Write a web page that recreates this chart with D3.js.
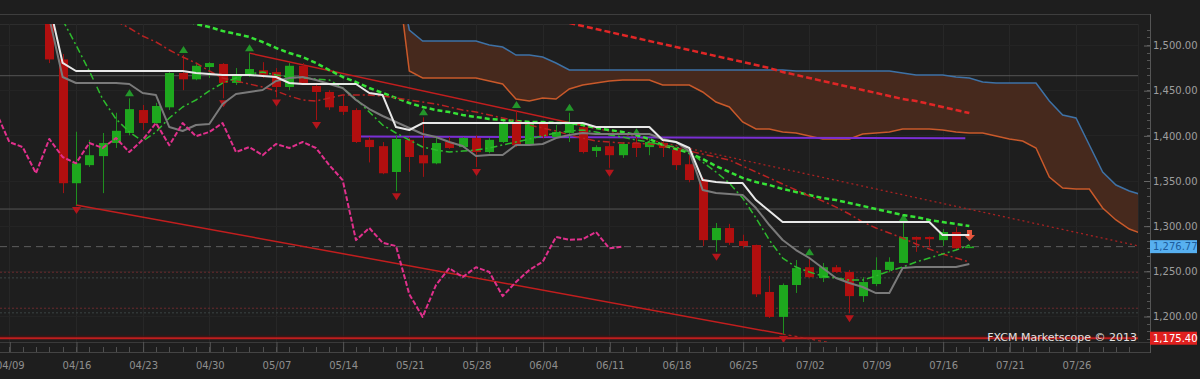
<!DOCTYPE html>
<html><head><meta charset="utf-8">
<script src="https://cdn.jsdelivr.net/npm/d3@7"></script>
<style>html,body{margin:0;padding:0;background:#1e1e1e;overflow:hidden}svg{display:block}</style>
</head><body><svg id="c" width="1200" height="379"></svg>
<script>
// ---------- DATA ----------
const barDates = ["04/12","04/15","04/16","04/17","04/18","04/19","04/22","04/23","04/24","04/25","04/26","04/29","04/30",
"05/01","05/02","05/03","05/06","05/07","05/08","05/09","05/10","05/13","05/14","05/15","05/16","05/17","05/20","05/21","05/22","05/23","05/24","05/27","05/28","05/29","05/30","05/31",
"06/03","06/04","06/05","06/06","06/07","06/10","06/11","06/12","06/13","06/14","06/17","06/18","06/19","06/20","06/21","06/24","06/25","06/26","06/27","06/28",
"07/01","07/02","07/03","07/04","07/05","07/08","07/09","07/10","07/11","07/12","07/15","07/16","07/17","07/18"];
const open  = [1564,1484,1347,1367,1377,1391.5,1402.6,1428,1413.6,1431,1469,1462,1475.6,1479,1458,1467,1472,1470,1453.5,1477,1454.6,1448,1432.5,1428,1395,1388,1359.4,1395,1378,1369,1392.6,1387,1397,1381.5,1392.6,1413.6,1390.4,1413.6,1398,1402.6,1409,1382.7,1388,1378,1391.5,1387,1391.5,1384,1368,1350.5,1284,1297.4,1283,1278.6,1226.6,1199,1234.3,1254,1242,1254,1248.7,1222,1235.4,1251,1258.7,1287.5,1287.5,1284,1293,1276];
const high  = [1567,1490,1404,1395,1402.6,1425,1441,1433.6,1436,1470,1489,1480,1481,1480,1474.5,1491,1481,1474.5,1480,1480,1458,1450,1444.6,1430,1398,1392.6,1400,1398,1420,1398,1398,1398,1400,1397,1417,1428,1415,1415,1411.4,1425,1413.6,1389,1391.5,1392.6,1398,1397,1395,1386,1378,1353,1303,1302,1290,1279,1244.3,1236,1262,1265,1258.7,1256.4,1251,1243,1265,1265,1303,1288,1288,1296.3,1298.5,1278.5];
const low   = [1480,1336,1323,1365,1336,1386,1400,1406,1411,1428,1450,1461,1463.5,1441,1455.7,1464.6,1463.5,1442,1450,1455.7,1417,1428,1422.5,1391.5,1370,1357,1338,1359.4,1354,1368,1385,1386,1365,1380,1391.5,1387,1389,1397,1397,1392.6,1380,1376,1364,1375,1376,1378,1376,1361.6,1348,1277.5,1271,1278.6,1275,1221,1197.8,1180,1225.5,1242,1237.6,1247.6,1203,1215.5,1233,1248.7,1258.7,1271,1276,1277.5,1273,1275.5];
const close = [1484,1347,1369,1378,1391.5,1405,1429,1413.6,1432.5,1469,1462,1477,1480,1458,1465.7,1473.4,1467,1453.5,1477,1458,1448,1431,1426,1392.6,1387,1358,1396,1376,1369,1391.5,1386,1397,1381.5,1395,1413.6,1389,1413.6,1399,1403.7,1413.6,1381.5,1387,1378,1390.4,1386,1392.6,1386,1367,1350.5,1284,1297.4,1281,1277.5,1224,1199,1234.3,1253,1243,1254,1248.7,1222,1237.6,1251,1260,1287.5,1284.5,1285,1293,1275,1276.77];

const tickBars   = [-3,2,7,12,17,22,27,32,37,42,47,52,57,62,67,72,77];
const tickLabels = ["04/09","04/16","04/23","04/30","05/07","05/14","05/21","05/28","06/04","06/11","06/18","06/25","07/02","07/09","07/16","07/21","07/26"];
const priceTicks = [1200,1250,1300,1350,1400,1450,1500];

// Ichimoku lines (start at bar 0)
const kijun = [1545,1480.1,1471.2,1471.2,1471.2,1471.2,1471.2,1471.2,1471.2,1471.2,1471.2,1469.0,1467.9,1466.8,1466.8,1466.8,1465.7,1464.6,1457.9,1456.8,1456.8,1456.8,1456.8,1456.8,1446.9,1444.6,1409.2,1405.9,1413.6,1413.6,1413.6,1413.6,1413.6,1413.6,1413.6,1413.6,1413.6,1413.6,1413.6,1413.6,1413.6,1409.2,1409.2,1409.2,1409.2,1409.2,1394.8,1392.6,1386.0,1350.5,1348.3,1347.2,1347.2,1328.4,1316.2,1304,1304,1304,1304,1304,1304,1304,1304,1304,1304,1304,1304,1289.6,1289.6,1289.6];
const tenkan = [1530,1464.6,1457.9,1457.9,1457.9,1457.9,1456.8,1446.9,1444.6,1409.2,1404.8,1411.4,1412.5,1434.7,1445.8,1448.0,1450.2,1460.1,1463.5,1464.6,1461.3,1456.8,1452.4,1439.1,1429.1,1421.4,1414.8,1408.1,1401.5,1398.1,1392.6,1388.2,1377.1,1378.2,1378.2,1389.3,1389.3,1390.4,1397.0,1400.4,1402.6,1401.5,1401.5,1401.5,1401.5,1401.5,1395.9,1392.6,1382.6,1339.5,1336.1,1335.0,1333.9,1319.5,1300.7,1284.1,1273.0,1264.2,1253.1,1242.1,1236.5,1232.1,1225.4,1225.4,1253.1,1254.2,1254.2,1254.2,1254.2,1257.5];
// cloud spans, start at bar 26
const cloudStart = 26;
const spanA = [1590,1516.6,1504.4,1504.4,1504.4,1504.4,1504.4,1500.0,1497.8,1488.9,1488.9,1486.7,1480.1,1472.3,1472.3,1472.3,1472.3,1472.3,1472.3,1472.3,1472.3,1472.3,1472.3,1472.3,1472.3,1472.3,1472.3,1472.3,1472.3,1472.3,1471.2,1471.2,1471.2,1471.2,1471.2,1471.2,1471.2,1471.2,1469.0,1466.8,1466.8,1466.8,1464.6,1463.5,1459.0,1457.9,1457.9,1457.9,1457.9,1438.0,1422.5,1419.2,1389.3,1359.4,1345.0,1338.4,1333.9];
const spanB = [1590,1471.2,1463.5,1463.5,1463.5,1463.5,1463.5,1460.1,1456.8,1440.2,1438.0,1441.3,1440.2,1451.3,1455.7,1457.9,1460.1,1461.3,1461.3,1461.3,1455.7,1455.7,1455.7,1448.0,1436.9,1431.4,1414.8,1407.0,1407.0,1403.7,1402.6,1399.3,1395.9,1395.9,1395.9,1401.5,1402.6,1403.7,1407.0,1407.0,1407.0,1405.9,1403.7,1402.6,1402.6,1399.3,1395.9,1393.7,1386.0,1353.9,1341.7,1340.6,1340.6,1319.5,1306.3,1296.3,1290.8];
// moving averages
const fastMAStart = 1;
const fastMA = [1527.7,1500.0,1471.2,1440.2,1418.1,1403.7,1393.7,1403.7,1419.2,1431.4,1439.1,1449.1,1457.9,1463.5,1467.9,1470.1,1466.8,1464.6,1463.5,1462.4,1461.3,1452.4,1440.2,1425.8,1411.4,1402.6,1394.8,1387.1,1383.8,1381.5,1382.6,1383.8,1386.0,1389.3,1392.6,1395.9,1399.3,1402.6,1404.8,1405.9,1403.7,1400.4,1398.1,1394.8,1392.6,1389.3,1387.1,1381.5,1370.5,1359.4,1347.2,1330.6,1308.5,1284.1,1264.2,1254.2,1248.7,1244.3,1242.1,1239.8,1239.8,1244.3,1249.8,1254.2,1259.8,1264.2,1268.6,1273.0,1278.6];
const midMAStart = 5;
const midMA = [1526.6,1518.8,1510.0,1503.3,1494.5,1486.7,1480.1,1471.2,1463.5,1460.1,1456.8,1453.5,1449.1,1443.5,1439.1,1438.0,1441.3,1444.6,1444.6,1444.6,1443.5,1441.3,1439.1,1436.9,1434.7,1431.4,1428.0,1425.8,1422.5,1419.2,1415.9,1411.4,1408.1,1404.8,1400.4,1397.0,1393.7,1392.6,1391.5,1391.5,1390.4,1389.3,1386.0,1382.6,1379.3,1376.0,1372.7,1366.0,1359.4,1352.8,1346.1,1339.5,1332.8,1327.3,1320.6,1312.9,1304.0,1297.4,1291.9,1286.3,1279.7,1274.2,1268.6,1264.2,1259.8];
const slowMAStart = 10;
const slowMA = [1530,1523.2,1519.9,1515.5,1512.2,1508.9,1503.3,1496.7,1491.1,1486.7,1480.1,1472.3,1464.6,1459.0,1452.4,1446.9,1441.3,1435.8,1431.4,1428.0,1425.8,1422.5,1420.3,1418.1,1417.0,1415.9,1414.8,1414.8,1413.6,1413.6,1411.4,1408.1,1405.9,1403.7,1400.4,1395.9,1389.3,1384.9,1380.4,1373.8,1366.0,1359.4,1352.8,1348.3,1345.0,1340.6,1337.3,1333.9,1330.6,1328.4,1325.1,1321.8,1318.4,1315.1,1311.8,1309.6,1306.3,1304.0,1301.8,1299.6];
const longMAStart = 39;
const longMA = [1524.4,1521.0,1517.7,1514.4,1511.1,1507.7,1504.4,1501.1,1497.8,1494.5,1491.1,1487.8,1484.5,1481.2,1477.9,1474.5,1470.1,1466.8,1463.5,1460.1,1456.8,1453.5,1450.2,1446.9,1443.5,1440.2,1438.0,1434.7,1431.4,1428.0,1424.7];
const chikouShift = 26;

const upFractals   = [6,10,15,28,35,39,44,57,64];
const downFractals = [2,13,17,20,26,32,42,50,55,60];

const upperTrend = [{i:15,p:1491},{i:40,p:1411}];
const upperTrendEnd = 82;
const lowerTrend = [{i:2,p:1323},{i:55,p:1180}];
const lowerTrendEnd = 60;
const purpleLine = [{i:23.3,p:1398.7},{i:68.7,p:1396.7}];
const grayLevels = [1466.0,1318.4];
const redDotLevels = [1248.5,1208.6];
const grayDotLevels = [1242.2,1203.5];
const lastPrice = 1276.77;
const lowMark = 1175.40;

// ---------- LAYOUT ----------
const svg = d3.select("#c");
const W=1200,H=379, PL=0, PR=1138, PT=24, PB=342, AX=1150;
const x = d3.scaleLinear().domain([-3,77]).range([9.3,1076]);
const y = d3.scaleLinear().domain([1200,1500]).range([316,45]);
const fmt = d3.format(",.2f");

svg.append("rect").attr("width",W).attr("height",H).attr("fill","#1e1e1e");
svg.append("defs").append("clipPath").attr("id","clip").append("rect")
  .attr("x",PL).attr("y",PT).attr("width",PR-PL).attr("height",PB-PT);

// frame lines
svg.append("line").attr("x1",0).attr("x2",AX).attr("y1",14.5).attr("y2",14.5).attr("stroke","#3e3e3e");
svg.append("line").attr("x1",0).attr("x2",PR).attr("y1",24.5).attr("y2",24.5).attr("stroke","#2d2d2d");
svg.append("line").attr("x1",PR+0.5).attr("x2",PR+0.5).attr("y1",24).attr("y2",PB).attr("stroke","#262626");

const plot = svg.append("g").attr("clip-path","url(#clip)");

// grid
plot.selectAll(".vg").data(tickBars).join("line")
  .attr("x1",d=>Math.round(x(d))+0.5).attr("x2",d=>Math.round(x(d))+0.5).attr("y1",PT).attr("y2",PB)
  .attr("stroke","#272727");
plot.selectAll(".hg").data(priceTicks).join("line")
  .attr("x1",0).attr("x2",PR).attr("y1",d=>Math.round(y(d))+0.5).attr("y2",d=>Math.round(y(d))+0.5)
  .attr("stroke","#242424");

// horizontal levels
plot.selectAll(".gl").data(grayLevels).join("line")
  .attr("x1",0).attr("x2",PR).attr("y1",d=>y(d)).attr("y2",d=>y(d)).attr("stroke","#555").attr("stroke-width",1);
plot.selectAll(".rdl").data(redDotLevels).join("line")
  .attr("x1",0).attr("x2",PR).attr("y1",d=>y(d)).attr("y2",d=>y(d)).attr("stroke","#6b2a2e").attr("stroke-dasharray","2,2");
plot.selectAll(".gdl").data(grayDotLevels).join("line")
  .attr("x1",0).attr("x2",PR).attr("y1",d=>y(d)).attr("y2",d=>y(d)).attr("stroke","#3c4545").attr("stroke-dasharray","2,2");
plot.append("line").attr("x1",0).attr("x2",PR).attr("y1",y(lastPrice)).attr("y2",y(lastPrice))
  .attr("stroke","#5e5e5e").attr("stroke-dasharray","7,5");
plot.append("line").attr("x1",0).attr("x2",PR).attr("y1",y(lowMark)-2).attr("y2",y(lowMark)-2).attr("stroke","#4a1212");
plot.append("line").attr("x1",0).attr("x2",PR).attr("y1",y(lowMark)).attr("y2",y(lowMark)).attr("stroke","#c01d1d").attr("stroke-width",2);

// cloud
const cloud = spanA.map((a,k)=>({i:cloudStart+k,a:a,b:spanB[k]}));
plot.append("path").datum(cloud).attr("fill","#46291d")
  .attr("d",d3.area().x(d=>x(d.i)).y0(d=>y(d.b)).y1(d=>y(d.a)));
const lineI = d3.line().x(d=>x(d.i)).y(d=>y(d.v));
const ser = (start,arr)=>arr.map((v,k)=>({i:start+k,v:v}));
plot.append("path").datum(ser(cloudStart,spanA)).attr("d",lineI).attr("fill","none").attr("stroke","#3e72a6").attr("stroke-width",1.5);
plot.append("path").datum(ser(cloudStart,spanB)).attr("d",lineI).attr("fill","none").attr("stroke","#c9592a").attr("stroke-width",1.5);

// trend lines
function extend(t,end){const s=(t[1].p-t[0].p)/(t[1].i-t[0].i);return [{i:t[1].i,v:t[1].p},{i:end,v:t[1].p+s*(end-t[1].i)}];}
plot.append("path").datum(upperTrend.map(d=>({i:d.i,v:d.p}))).attr("d",lineI).attr("fill","none").attr("stroke","#c21e1e").attr("stroke-width",1.5);
plot.append("path").datum(extend(upperTrend,upperTrendEnd)).attr("d",lineI).attr("fill","none").attr("stroke","#a82222").attr("stroke-width",1.3).attr("stroke-dasharray","2,3");
plot.append("path").datum(lowerTrend.map(d=>({i:d.i,v:d.p}))).attr("d",lineI).attr("fill","none").attr("stroke","#c21e1e").attr("stroke-width",1.5);
plot.append("path").datum(extend(lowerTrend,lowerTrendEnd)).attr("d",lineI).attr("fill","none").attr("stroke","#a82222").attr("stroke-width",1.3).attr("stroke-dasharray","3,3");
plot.append("path").datum(purpleLine.map(d=>({i:d.i,v:d.p}))).attr("d",lineI).attr("fill","none").attr("stroke","#7a2fd4").attr("stroke-width",2);

// candles
const bars = barDates.map((d,i)=>({i:i,date:d,o:open[i],h:high[i],l:low[i],c:close[i]}));
const cg = plot.append("g");
cg.selectAll(".wick").data(bars).join("line")
  .attr("x1",d=>Math.round(x(d.i))+0.5).attr("x2",d=>Math.round(x(d.i))+0.5)
  .attr("y1",d=>y(d.h)).attr("y2",d=>y(d.l))
  .attr("stroke",d=>d.c>=d.o?"#1f8f1f":"#a01212").attr("stroke-width",1);
cg.selectAll(".body").data(bars).join("rect")
  .attr("x",d=>Math.round(x(d.i))-4).attr("width",9)
  .attr("y",d=>y(Math.max(d.o,d.c))).attr("height",d=>Math.max(1.5,Math.abs(y(d.o)-y(d.c))))
  .attr("fill",d=>d.c>=d.o?"#1ea81e":"#b10f0f");

// fractals
plot.selectAll(".fu").data(upFractals).join("path")
  .attr("d",i=>{const cx=Math.round(x(i))+0.5,b=y(high[i])-2;return `M${cx-4.5},${b}L${cx+4.5},${b}L${cx},${b-7}Z`;})
  .attr("fill","#23962a");
plot.selectAll(".fd").data(downFractals).join("path")
  .attr("d",i=>{const cx=Math.round(x(i))+0.5,t=y(low[i])+2;return `M${cx-4.5},${t}L${cx+4.5},${t}L${cx},${t+7}Z`;})
  .attr("fill","#b3151b");
// current bar marker
{const li=bars.length-1,cx=Math.round(x(li))+0.5,t=y(high[li])-15;
 plot.append("path").attr("d",`M${cx-2.5},${t}L${cx+2.5},${t}L${cx+2.5},${t+5}L${cx+5.5},${t+5}L${cx},${t+11}L${cx-5.5},${t+5}L${cx-2.5},${t+5}Z`)
  .attr("fill","#e5553d");}

// indicator lines
function drawLine(data,color,w,dash){const p=plot.append("path").datum(data).attr("d",lineI).attr("fill","none")
  .attr("stroke",color).attr("stroke-width",w).attr("stroke-linejoin","round");if(dash)p.attr("stroke-dasharray",dash);return p;}
drawLine(ser(longMAStart,longMA),"#e02626",2.5,"6,3");
drawLine(ser(slowMAStart,slowMA),"#36e236",2.5,"5,3");
drawLine(ser(midMAStart,midMA),"#b82222",1.5,"7,3,2,3");
drawLine(ser(fastMAStart,fastMA),"#2dbb2d",1.5,"7,3,2,3");
drawLine(ser(0,tenkan),"#7a7a7a",2);
drawLine(ser(0,kijun),"#e8e8e8",2);
const chikou = close.map((c,k)=>({i:k-chikouShift,v:c})).filter(d=>d.i>=-5);
drawLine(chikou,"#e0308c",2,"5,2");

// ---------- AXES ----------
// bottom axis
svg.append("line").attr("x1",0).attr("x2",AX).attr("y1",PB+0.5).attr("y2",PB+0.5).attr("stroke","#3a3a3a");
svg.append("line").attr("x1",0).attr("x2",AX).attr("y1",352.5).attr("y2",352.5).attr("stroke","#444");
const minorBars = d3.range(-4,82);
svg.selectAll(".mxt").data(minorBars).join("line")
  .attr("x1",d=>Math.round(x(d))+0.5).attr("x2",d=>Math.round(x(d))+0.5).attr("y1",347).attr("y2",352)
  .attr("stroke","#505050");
const xAxis = d3.axisBottom(x).tickValues(tickBars).tickSize(10).tickPadding(10)
  .tickFormat((d,k)=>tickLabels[k]);
const gx = svg.append("g").attr("transform",`translate(0.5,${PB})`).call(xAxis);
gx.select(".domain").remove();
gx.selectAll(".tick line").attr("stroke","#555");
gx.selectAll("text").attr("fill","#8e8e8e").style("font-family","DejaVu Sans").style("font-size","10px");

// right axis
svg.append("line").attr("x1",AX+0.5).attr("x2",AX+0.5).attr("y1",14).attr("y2",353).attr("stroke","#555");
const minorY = d3.range(0,44).map(k=>1175+k*50/6).filter(v=>y(v)>PT&&y(v)<PB);
svg.selectAll(".myt").data(minorY).join("line")
  .attr("x1",AX-3).attr("x2",AX).attr("y1",d=>Math.round(y(d))+0.5).attr("y2",d=>Math.round(y(d))+0.5).attr("stroke","#555");
const yAxis = d3.axisRight(y).tickValues(priceTicks).tickSize(-6).tickSizeOuter(0).tickPadding(3).tickFormat(fmt);
const gy = svg.append("g").attr("transform",`translate(${AX},0.5)`).call(yAxis);
gy.select(".domain").remove();
gy.selectAll(".tick line").attr("stroke","#666");
gy.selectAll("text").attr("fill","#9e9e9e").style("font-family","DejaVu Sans").style("font-size","10px");

// price boxes
function box(v,bg,fg){const cy=y(v);
  svg.append("rect").attr("x",AX).attr("y",cy-6.5).attr("width",47).attr("height",13).attr("fill",bg);
  svg.append("text").attr("x",AX+3).attr("y",cy+3.7).attr("fill",fg).style("font-family","DejaVu Sans").style("font-size","10px").text(fmt(v));}
box(lastPrice,"#57b0f0","#1d5c9c");
box(lowMark,"#e0201e","#ffffff");

svg.append("text").attr("x",PR-1).attr("y",340.5).attr("text-anchor","end").attr("fill","#e2e2e2")
  .style("font-family","DejaVu Sans").style("font-size","11px").text("FXCM Marketscope \u00a9 2013");
</script></body></html>
